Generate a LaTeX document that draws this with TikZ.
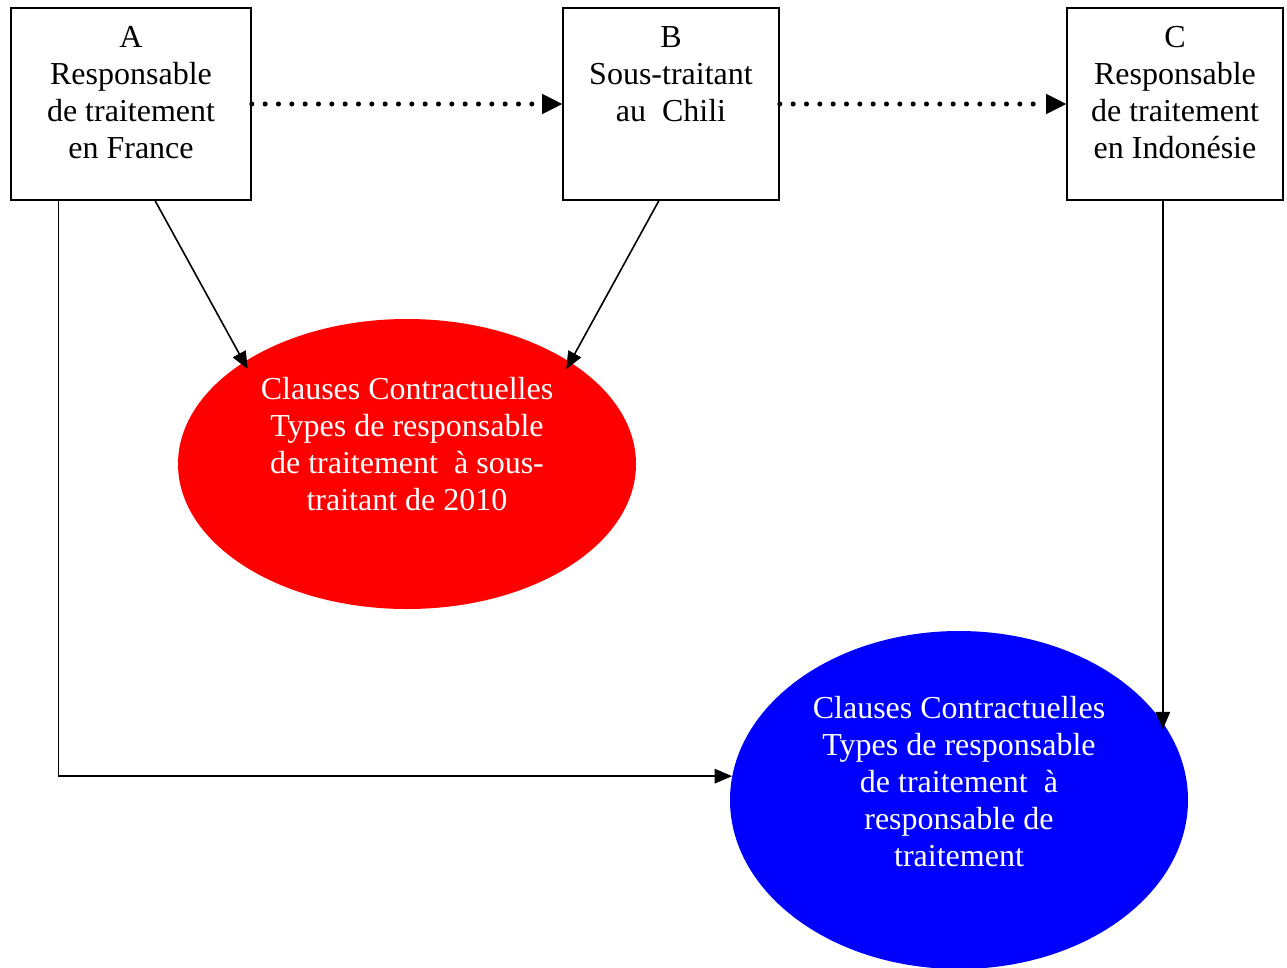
\documentclass[tikz,border=0pt]{standalone}
\usepackage{fontspec}
\setmainfont{Liberation Serif}
\usetikzlibrary{arrows.meta, shapes, calc, positioning}

\begin{document}
\begin{tikzpicture}[x=0.75pt, y=-0.75pt,
  box/.style={draw, line width=1.2pt, minimum height=144pt, inner sep=0pt},
  txt/.style={align=center, font=\fontsize{24}{27.75}\selectfont, inner sep=0pt},
  arr/.style={line width=1.2pt, -{Triangle[length=13pt, width=11pt, line width=0.5pt]}},
  dots/.style={line width=3.8pt, line cap=round, dash pattern=on 0pt off 10pt,
    -{Triangle[length=15pt, width=15pt, line width=0.5pt]}},
  blob/.style={ellipse, draw=none, inner sep=0pt, minimum width=343.5pt}]
  \useasboundingbox (0,0) rectangle (1287,967);

  % boxes
  \node[box, minimum width=180pt] (A) at (131,104) {};
  \node[box, minimum width=162pt] (B) at (671,104) {};
  \node[box, minimum width=162pt] (C) at (1175,104) {};
  \node[txt, anchor=north] (tA) at ([yshift=-14pt]A.north) {A\\Responsable\\de traitement\\en France};
  \node[txt, anchor=north] (tB) at ([yshift=-14pt]B.north) {B\\Sous-traitant\\au~ Chili};
  \node[txt, anchor=north] (tC) at ([yshift=-14pt]C.north) {C\\Responsable\\de traitement\\en Indonésie};

  % clauses
  \node[blob, fill=red, minimum height=217.5pt] (R) at (407,464) {};
  \node[blob, fill=blue, minimum height=253.5pt] (Bl) at (959,800) {};
  \node[txt, text=white] (tR) at ([yshift=15pt]R.center)
    {Clauses Contractuelles\\Types de responsable\\de traitement~ à sous-\\traitant de 2010};
  \node[txt, text=white] (tBl) at ([yshift=14pt]Bl.center)
    {Clauses Contractuelles\\Types de responsable\\de traitement~ à\\responsable de\\traitement};

  % transfers
  \draw[dots] (A.east) -- (B.west);
  \draw[dots] (B.east) -- (C.west);

  % links
  \coordinate (a1) at ($(A.south west)!0.6!(A.south east)$);
  \coordinate (a2) at ($(A.south west)!0.2!(A.south east)$);
  \coordinate (b1) at ($(B.south west)!0.444!(B.south east)$);
  \coordinate (c1) at ($(C.south west)!0.444!(C.south east)$);
  \draw[arr, shorten >=-6pt] (a1) -- (R.148);
  \draw[arr, shorten >=-6pt] (b1) -- (R.32);
  \draw[arr, shorten >=-3pt] (c1) -- (c1 |- Bl.20.6);
  \draw[arr] (a2) |- (Bl.174);
\end{tikzpicture}
\end{document}
